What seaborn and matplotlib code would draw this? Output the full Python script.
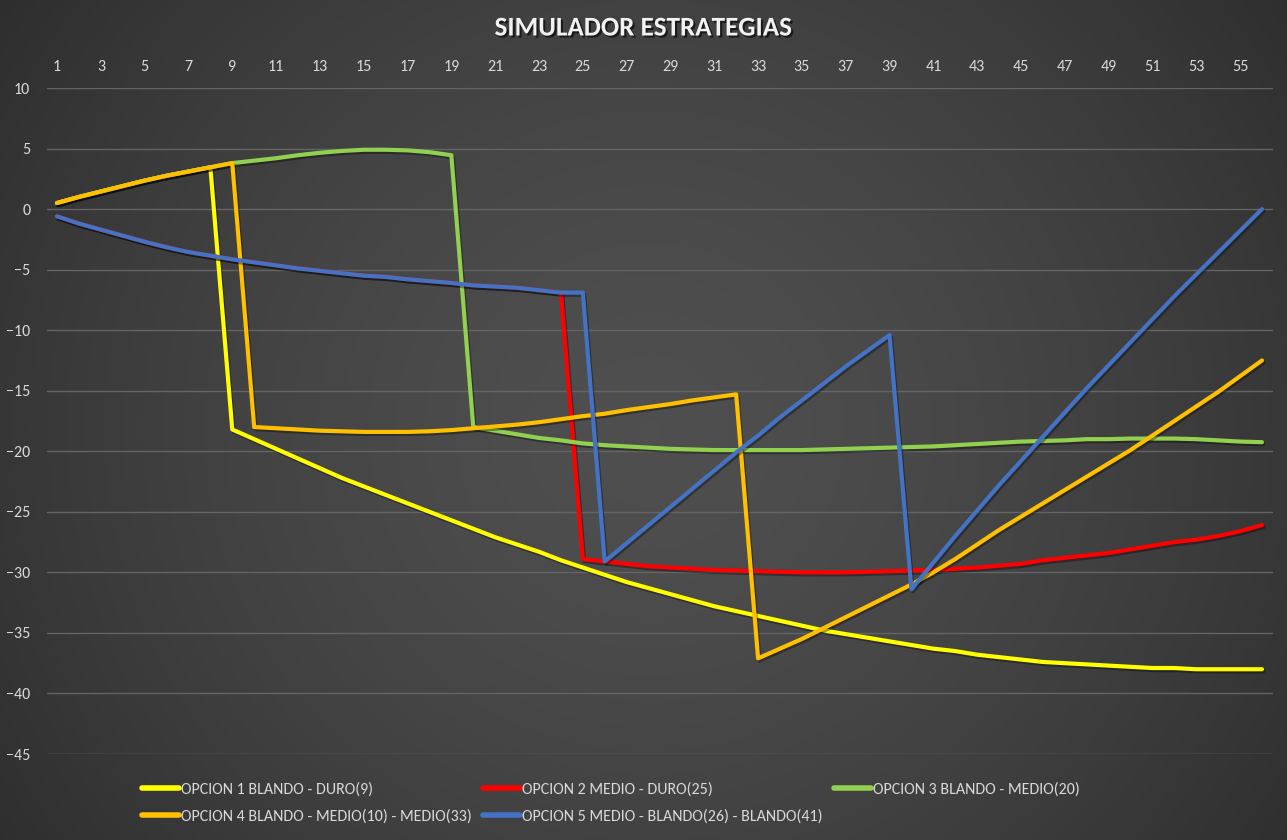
import numpy as np
import pandas as pd
import matplotlib
matplotlib.use("Agg")
import matplotlib.pyplot as plt
import matplotlib.patheffects as pe
from matplotlib.lines import Line2D
import seaborn as sns

# periodos del simulador
periodos = list(range(1, 57))

# tramos comunes
inicio_blando = [0.5, 1.0, 1.45, 1.9, 2.35, 2.75, 3.1, 3.45, 3.8]
inicio_medio = [-0.6, -1.2, -1.7, -2.2, -2.7, -3.15, -3.55, -3.85, -4.15, -4.4, -4.65, -4.9,
                -5.1, -5.3, -5.5, -5.6, -5.8, -5.95, -6.1, -6.3, -6.4, -6.5, -6.7, -6.9]

opcion1 = inicio_blando[:8] + [
    -18.2, -19.0, -19.8, -20.6, -21.4, -22.2, -22.9, -23.6, -24.3, -25.0, -25.7, -26.4,
    -27.1, -27.7, -28.3, -29.0, -29.6, -30.2, -30.8, -31.3, -31.8, -32.3, -32.8, -33.2,
    -33.6, -34.0, -34.4, -34.8, -35.1, -35.4, -35.7, -36.0, -36.3, -36.5, -36.8, -37.0,
    -37.2, -37.4, -37.5, -37.6, -37.7, -37.8, -37.9, -37.9, -38.0, -38.0, -38.0, -38.0]

opcion2 = inicio_medio + [
    -28.9, -29.1, -29.3, -29.5, -29.6, -29.7, -29.8, -29.85, -29.9, -29.95, -30.0, -30.0,
    -30.0, -29.95, -29.9, -29.85, -29.8, -29.7, -29.6, -29.45, -29.3, -29.0, -28.8, -28.6,
    -28.4, -28.1, -27.8, -27.5, -27.3, -27.0, -26.6, -26.1]

opcion3 = inicio_blando + [4.0, 4.2, 4.45, 4.65, 4.8, 4.9, 4.9, 4.85, 4.7, 4.45] + [
    -18.0, -18.3, -18.6, -18.9, -19.1, -19.35, -19.5, -19.6, -19.7, -19.8, -19.85, -19.9,
    -19.9, -19.9, -19.9, -19.9, -19.85, -19.8, -19.75, -19.7, -19.65, -19.6, -19.5, -19.4,
    -19.3, -19.2, -19.15, -19.1, -19.0, -19.0, -18.95, -18.95, -18.95, -19.0, -19.1, -19.2,
    -19.25]

opcion4 = inicio_blando + [
    -18.0, -18.1, -18.2, -18.3, -18.35, -18.4, -18.4, -18.4, -18.35, -18.25, -18.1, -17.95,
    -17.8, -17.6, -17.35, -17.1, -16.9, -16.6, -16.35, -16.1, -15.8, -15.55, -15.3] + [
    -37.1, -36.3, -35.5, -34.6, -33.7, -32.8, -31.9, -31.0, -30.0, -28.9, -27.7, -26.5,
    -25.4, -24.3, -23.2, -22.1, -21.0, -19.9, -18.7, -17.5, -16.3, -15.1, -13.8, -12.5]

opcion5 = inicio_medio + [-6.9] + [
    -29.1, -27.6, -26.1, -24.6, -23.1, -21.6, -20.1, -18.7, -17.2, -15.8, -14.4, -13.0,
    -11.7, -10.4] + [
    -31.4, -29.2, -27.0, -24.9, -22.8, -20.8, -18.8, -16.8, -14.8, -12.9, -11.0, -9.1,
    -7.2, -5.4, -3.6, -1.8, 0.0]

nombres = ["OPCION 1 BLANDO - DURO(9)",
           "OPCION 2 MEDIO - DURO(25)",
           "OPCION 3 BLANDO - MEDIO(20)",
           "OPCION 4 BLANDO - MEDIO(10) - MEDIO(33)",
           "OPCION 5 MEDIO - BLANDO(26) - BLANDO(41)"]
colores = ["#FFFF00", "#FF0000", "#92D050", "#FFC000", "#4472C4"]

frames = []
for nombre, valores in zip(nombres, [opcion1, opcion2, opcion3, opcion4, opcion5]):
    frames.append(pd.DataFrame({"periodo": periodos, "valor": valores, "serie": nombre}))
df = pd.concat(frames, ignore_index=True)

sns.set_theme(style="dark")
plt.rcParams['font.family'] = ['Carlito', 'DejaVu Sans']

W, H = 1287, 840
fig = plt.figure(figsize=(W / 100, H / 100), dpi=100)

# fondo con degradado radial
bg = fig.add_axes([0, 0, 1, 1], zorder=-10)
yy, xx = np.mgrid[0:H, 0:W]
r = np.sqrt(((xx - 650) / 830.0) ** 2 + ((yy - 430) / 800.0) ** 2)
gris = 0.31 - 0.14 * np.clip(r, 0, 1) ** 1.5
bg.imshow(np.dstack([gris] * 3), aspect="auto", interpolation="bilinear")
bg.axis("off")

ax = fig.add_axes([47 / W, 1 - 754 / H, (1273 - 47) / W, (754 - 88) / H])
ax.patch.set_alpha(0)

sns.lineplot(data=df, x="periodo", y="valor", hue="serie", hue_order=nombres,
             palette=colores, estimator=None, errorbar=None, sort=False,
             linewidth=3, legend=False, ax=ax)

sombra = [pe.SimpleLineShadow(offset=(1, -1.5), alpha=0.35, shadow_color="black"), pe.Normal()]
for ln in ax.lines:
    ln.set_solid_capstyle("round")
    ln.set_solid_joinstyle("round")
    ln.set_path_effects(sombra)

ax.set_xlim(1 - 10 / 21.9, 56 + 11 / 21.9)
ax.set_ylim(-45, 10)
ax.set_yticks(range(-45, 11, 5))
ax.set_xticks(list(range(1, 56, 2)))
ax.xaxis.tick_top()
ax.tick_params(axis="both", length=0, colors="#D9D9D9", labelsize=11.5)
ax.tick_params(axis="x", pad=10)
ax.tick_params(axis="y", pad=12)
ax.set_xlabel("")
ax.set_ylabel("")
ax.grid(axis="y", color="#646464", linewidth=1)
ax.grid(axis="x", visible=False)
for s in ax.spines.values():
    s.set_visible(False)

fig.text(0.5, 1 - 28 / H, "SIMULADOR ESTRATEGIAS", ha="center", va="center",
         fontsize=19.5, fontweight="bold", color="#F2F2F2",
         path_effects=[pe.withSimplePatchShadow(offset=(1.5, -1.5), alpha=0.6, shadow_rgbFace="black")])

# leyenda ordenada por filas como en el original
handles = [Line2D([0], [0], color=c, lw=4, solid_capstyle="round") for c in colores]
orden = [0, 3, 1, 4, 2]
leg = fig.legend([handles[i] for i in orden], [nombres[i] for i in orden],
                 loc="center left", bbox_to_anchor=(128 / W, 1 - 803 / H), ncol=3,
                 frameon=False, fontsize=11.5, handlelength=2.3, handletextpad=0.1,
                 columnspacing=0.75, labelspacing=0.75)
for t in leg.get_texts():
    t.set_color("#D9D9D9")

fig.savefig("out.png", dpi=100)
